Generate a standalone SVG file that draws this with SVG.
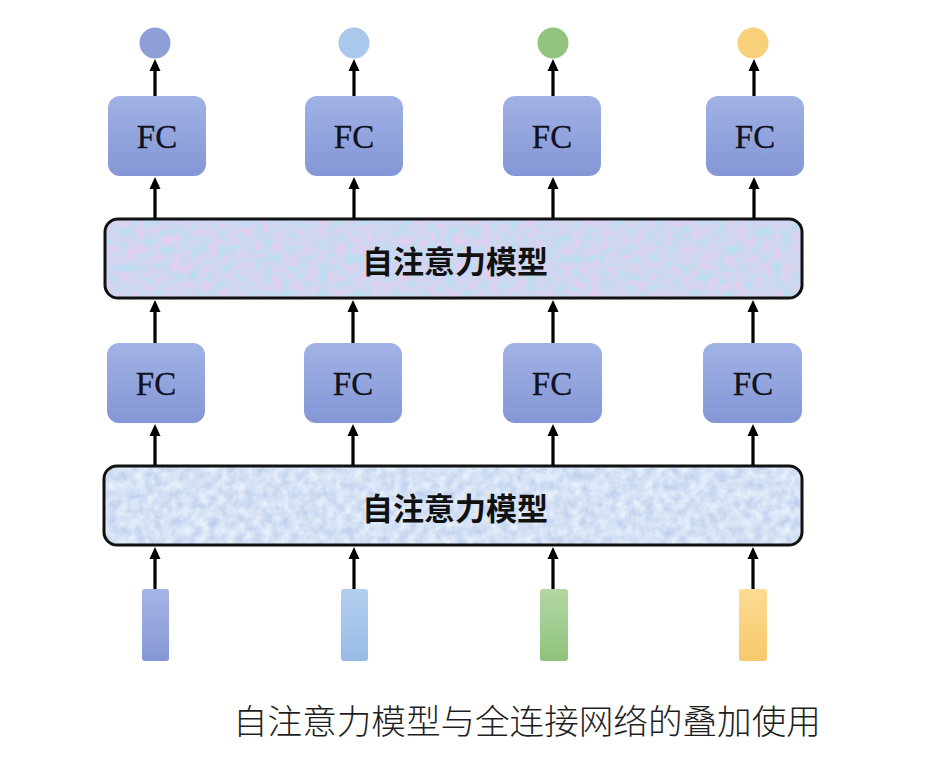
<svg xmlns="http://www.w3.org/2000/svg" width="927" height="771" viewBox="0 0 927 771">
  <defs>
    <style>
      .fc rect { fill: url(#gFC); }
      .fc text { font-family: "Liberation Serif", "Times New Roman", serif; font-size: 33px; fill: #10121f; text-anchor: middle; stroke: #10121f; stroke-width: 0.3; }
      .att rect.frame { fill: none; stroke: #111; stroke-width: 3; }
      .att text { font-family: "Noto Sans CJK SC", "Noto Sans", sans-serif; font-weight: 700; font-size: 31px; fill: #111; text-anchor: middle; }
      .conn line { stroke: #000; stroke-width: 3.2; marker-end: url(#arrow); }
      .caption { font-family: "Noto Sans CJK SC", "Noto Sans", sans-serif; font-weight: 300; font-size: 34.6px; fill: #1e1e1e; }
    </style>
    <marker id="arrow" markerUnits="userSpaceOnUse" markerWidth="13" markerHeight="13" viewBox="0 0 13 13" refX="3" refY="6.5" orient="auto">
      <path d="M0,1 L12,6.5 L0,12 z" fill="#000"/>
    </marker>
    <linearGradient id="gFC" x1="0" y1="0" x2="0" y2="1">
      <stop offset="0" stop-color="#a1b2e5"/>
      <stop offset="1" stop-color="#8496d5"/>
    </linearGradient>
    <linearGradient id="gIn1" x1="0" y1="0" x2="0" y2="1">
      <stop offset="0" stop-color="#a6b4e4"/>
      <stop offset="1" stop-color="#8597d5"/>
    </linearGradient>
    <linearGradient id="gIn2" x1="0" y1="0" x2="0" y2="1">
      <stop offset="0" stop-color="#b3cfef"/>
      <stop offset="1" stop-color="#97bbe6"/>
    </linearGradient>
    <linearGradient id="gIn3" x1="0" y1="0" x2="0" y2="1">
      <stop offset="0" stop-color="#b4d7a4"/>
      <stop offset="1" stop-color="#8ec37c"/>
    </linearGradient>
    <linearGradient id="gIn4" x1="0" y1="0" x2="0" y2="1">
      <stop offset="0" stop-color="#fddb93"/>
      <stop offset="1" stop-color="#f6c96a"/>
    </linearGradient>
    <filter id="noiseTop" x="0" y="0" width="1" height="1" color-interpolation-filters="sRGB">
      <feTurbulence type="fractalNoise" baseFrequency="0.11" numOctaves="3" seed="4" result="n"/>
      <feColorMatrix in="n" type="matrix" values="0.3 0 0 0 0.66  -0.12 0 0 0 0.90  0 0.06 0 0 0.91  0 0 0 0 1" result="c"/>
      <feComposite in="c" in2="SourceGraphic" operator="in"/>
    </filter>
    <filter id="noiseBot" x="0" y="0" width="1" height="1" color-interpolation-filters="sRGB">
      <feTurbulence type="fractalNoise" baseFrequency="0.11" numOctaves="3" seed="9" result="n"/>
      <feColorMatrix in="n" type="matrix" values="0.25 0 0 0 0.71  0.2 0 0 0 0.785  0.08 0 0 0 0.92  0 0 0 0 1" result="c"/>
      <feComposite in="c" in2="SourceGraphic" operator="in"/>
    </filter>
  </defs>

  <rect width="927" height="771" fill="#fff"/>

  <!-- outputs -->
  <g id="out1"><circle cx="155" cy="43" r="15.5" fill="#8e9fd7"/></g>
  <g id="out2"><circle cx="354" cy="43" r="15.5" fill="#a9c8ec"/></g>
  <g id="out3"><circle cx="553" cy="43" r="15.5" fill="#92c47e"/></g>
  <g id="out4"><circle cx="753" cy="43" r="15.5" fill="#f8d07a"/></g>

  <!-- top FC row -->
  <g id="fc1a" class="fc"><rect x="108" y="96" width="98" height="80" rx="12"/><text x="157" y="148">FC</text></g>
  <g id="fc2a" class="fc"><rect x="305" y="96" width="98" height="80" rx="12"/><text x="354" y="148">FC</text></g>
  <g id="fc3a" class="fc"><rect x="503" y="96" width="98" height="80" rx="12"/><text x="552" y="148">FC</text></g>
  <g id="fc4a" class="fc"><rect x="706" y="96" width="98" height="80" rx="12"/><text x="755" y="148">FC</text></g>

  <!-- top attention -->
  <g id="attTop" class="att">
    <rect x="105" y="219" width="697" height="79" rx="13" fill="#cfd6f0" filter="url(#noiseTop)"/>
    <rect class="frame" x="105" y="219" width="697" height="79" rx="13"/>
    <text x="455" y="273">自注意力模型</text>
  </g>

  <!-- second FC row -->
  <g id="fc1b" class="fc"><rect x="107" y="343" width="98" height="80" rx="12"/><text x="156" y="395">FC</text></g>
  <g id="fc2b" class="fc"><rect x="304" y="343" width="98" height="80" rx="12"/><text x="353" y="395">FC</text></g>
  <g id="fc3b" class="fc"><rect x="503" y="343" width="99" height="80" rx="12"/><text x="552" y="395">FC</text></g>
  <g id="fc4b" class="fc"><rect x="703" y="343" width="99" height="80" rx="12"/><text x="753" y="395">FC</text></g>

  <!-- bottom attention -->
  <g id="attBot" class="att">
    <rect x="104" y="466" width="698" height="79" rx="13" fill="#d6e3f4" filter="url(#noiseBot)"/>
    <rect class="frame" x="104" y="466" width="698" height="79" rx="13"/>
    <text x="455" y="520">自注意力模型</text>
  </g>

  <!-- inputs -->
  <g id="in1"><rect x="142" y="589" width="27" height="72" rx="3" fill="url(#gIn1)"/></g>
  <g id="in2"><rect x="341" y="589" width="27" height="72" rx="3" fill="url(#gIn2)"/></g>
  <g id="in3"><rect x="540" y="589" width="28" height="72" rx="3" fill="url(#gIn3)"/></g>
  <g id="in4"><rect x="739" y="589" width="28" height="72" rx="3" fill="url(#gIn4)"/></g>

  <!-- connectors -->
  <g id="connectors" class="conn">
    <line x1="155" y1="589" x2="155" y2="556"/>
    <line x1="354" y1="589" x2="354" y2="556"/>
    <line x1="553" y1="589" x2="553" y2="556"/>
    <line x1="753" y1="589" x2="753" y2="556"/>

    <line x1="155" y1="465" x2="155" y2="433"/>
    <line x1="353" y1="465" x2="353" y2="433"/>
    <line x1="553" y1="465" x2="553" y2="433"/>
    <line x1="753" y1="465" x2="753" y2="433"/>

    <line x1="155" y1="343" x2="155" y2="309"/>
    <line x1="353" y1="343" x2="353" y2="309"/>
    <line x1="553" y1="343" x2="553" y2="309"/>
    <line x1="753" y1="343" x2="753" y2="309"/>

    <line x1="155" y1="218" x2="155" y2="186"/>
    <line x1="354" y1="218" x2="354" y2="186"/>
    <line x1="553" y1="218" x2="553" y2="186"/>
    <line x1="754" y1="218" x2="754" y2="186"/>

    <line x1="155" y1="96" x2="155" y2="68"/>
    <line x1="354" y1="96" x2="354" y2="68"/>
    <line x1="553" y1="96" x2="553" y2="68"/>
    <line x1="754" y1="96" x2="754" y2="68"/>
  </g>

  <text class="caption" x="233" y="734">自注意力模型与全连接网络的叠加使用</text>
</svg>
